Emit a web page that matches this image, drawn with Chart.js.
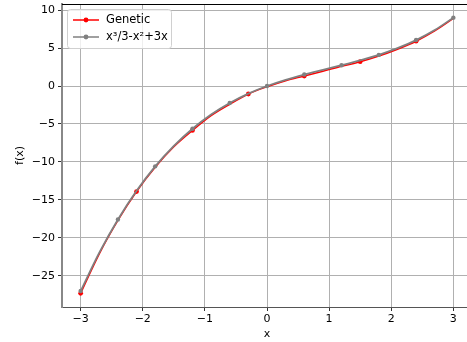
<!DOCTYPE html>
<html>
<head>
<meta charset="utf-8">
<script src="https://cdn.jsdelivr.net/npm/chart.js@4"></script>
<style>
  html, body { margin: 0; padding: 0; background: #fff; overflow: hidden; }
  #wrap { width: 480px; height: 342px; }
</style>
</head>
<body>
<div id="wrap"><canvas id="grafico"></canvas></div>
<script>
// valores de x (cada 0.3)
const xs = [-3, -2.7, -2.4, -2.1, -1.8, -1.5, -1.2, -0.9, -0.6, -0.3, 0,
            0.3, 0.6, 0.9, 1.2, 1.5, 1.8, 2.1, 2.4, 2.7, 3];
// curva obtenida por el algoritmo genetico
const genetic = [-27.3, -22.1, -17.7, -13.9, -10.7, -8.0, -5.85, -3.9, -2.4, -1.05, -0.1,
                 0.7, 1.32, 1.95, 2.6, 3.2, 3.95, 4.85, 5.9, 7.25, 8.9];
// curva real x³/3-x²+3x
const real = [-27.0, -21.95, -17.57, -13.8, -10.58, -7.88, -5.62, -3.75, -2.23, -1.0, 0,
              0.82, 1.51, 2.13, 2.74, 3.38, 4.1, 4.98, 6.05, 7.37, 9.0];

const xTicks = [-3, -2, -1, 0, 1, 2, 3];
const yTicks = [-25, -20, -15, -10, -5, 0, 5, 10];

const labels = ['Genetic', 'x³/3-x²+3x'];
const colores = ['#ff0000', '#808080'];

// marcadores: genetico cada 3 puntos, real cada 2
const radGen = xs.map((_, i) => i % 3 === 0 ? 2.4 : 0);
const radReal = xs.map((_, i) => i % 2 === 0 ? 2.2 : 0);

const fuente = 'DejaVu Sans';

// leyenda dibujada a mano dentro del area del grafico
const leyenda = {
  id: 'leyenda',
  afterDraw(chart) {
    const ctx = chart.ctx;
    const a = chart.chartArea;
    ctx.save();
    // linea superior del marco
    ctx.strokeStyle = '#000';
    ctx.lineWidth = 1;
    ctx.beginPath();
    ctx.moveTo(a.left, a.top + 0.5);
    ctx.lineTo(a.right, a.top + 0.5);
    ctx.stroke();

    const x0 = a.left + 5, y0 = a.top + 5, w = 104, h = 39;
    ctx.fillStyle = 'rgba(255,255,255,0.8)';
    ctx.strokeStyle = '#d0d0d0';
    ctx.beginPath();
    ctx.roundRect(x0 + 0.5, y0 + 0.5, w, h, 3);
    ctx.fill();
    ctx.stroke();
    labels.forEach((t, i) => {
      const y = y0 + 11 + i * 17;
      ctx.strokeStyle = colores[i];
      ctx.lineWidth = 1.5;
      ctx.beginPath();
      ctx.moveTo(x0 + 6, y);
      ctx.lineTo(x0 + 32, y);
      ctx.stroke();
      ctx.fillStyle = colores[i];
      ctx.beginPath();
      ctx.arc(x0 + 19, y, 2.4, 0, Math.PI * 2);
      ctx.fill();
      ctx.fillStyle = '#000';
      ctx.font = '11.5px "' + fuente + '"';
      ctx.textBaseline = 'middle';
      ctx.fillText(t, x0 + 39, y);
    });
    ctx.restore();
  }
};

new Chart(document.getElementById('grafico'), {
  type: 'line',
  data: {
    datasets: [
      {
        label: labels[0],
        data: xs.map((x, i) => ({ x: x, y: genetic[i] })),
        borderColor: colores[0],
        backgroundColor: colores[0],
        borderWidth: 1.5,
        pointRadius: radGen,
        pointBorderWidth: 0,
        cubicInterpolationMode: 'monotone',
        fill: false,
        order: 1
      },
      {
        label: labels[1],
        data: xs.map((x, i) => ({ x: x, y: real[i] })),
        borderColor: colores[1],
        backgroundColor: colores[1],
        borderWidth: 1.8,
        pointRadius: radReal,
        pointBorderWidth: 0,
        cubicInterpolationMode: 'monotone',
        fill: false,
        order: 0
      }
    ]
  },
  options: {
    responsive: true,
    maintainAspectRatio: false,
    animation: false,
    layout: { padding: { top: 2, right: 8, left: 0, bottom: 0 } },
    plugins: { legend: { display: false }, tooltip: { enabled: false } },
    scales: {
      x: {
        type: 'linear',
        min: -3.3,
        max: 3.3,
        afterBuildTicks: s => { s.ticks = xTicks.map(v => ({ value: v })); },
        afterFit: s => { s.height = 35; s.paddingLeft = 0; s.paddingRight = 0; },
        grid: { color: '#b0b0b0', lineWidth: 1, tickLength: 4, tickColor: '#333' },
        border: { color: '#555', width: 1 },
        ticks: { color: '#000', font: { family: fuente, size: 11 }, padding: 2,
                 callback: v => v < 0 ? '\u2212' + Math.abs(v) : '' + v },
        title: { display: true, text: 'x', color: '#000', font: { family: fuente, size: 11 },
                 padding: { top: 0, bottom: 1 } }
      },
      y: {
        min: -29.1,
        max: 10.8,
        afterBuildTicks: s => { s.ticks = yTicks.map(v => ({ value: v })); },
        afterFit: s => { s.width = 62; s.paddingTop = 0; s.paddingBottom = 0; },
        grid: { color: '#b0b0b0', lineWidth: 1, tickLength: 4, tickColor: '#333' },
        border: { color: '#888', width: 2 },
        ticks: { color: '#000', font: { family: fuente, size: 11 }, padding: 3,
                 callback: v => v < 0 ? '\u2212' + Math.abs(v) : '' + v },
        title: { display: true, text: 'f(x)', color: '#000', font: { family: fuente, size: 11 },
                 padding: { top: 14, bottom: 0 } }
      }
    }
  },
  plugins: [leyenda]
});
</script>
</body>
</html>
